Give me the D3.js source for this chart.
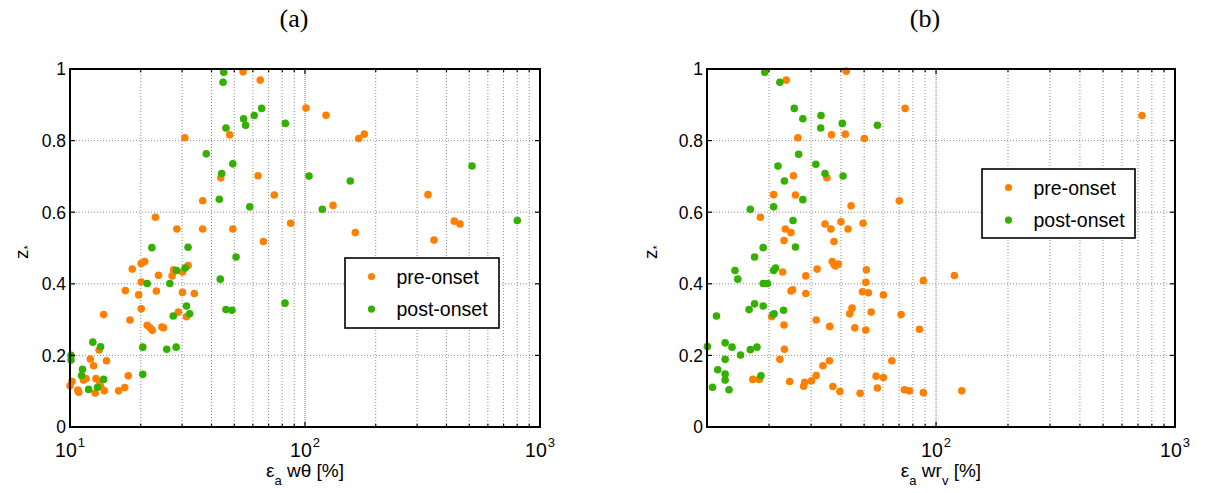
<!DOCTYPE html>
<html>
<head>
<meta charset="utf-8">
<script src="https://cdn.jsdelivr.net/npm/d3@7"></script>
<style>
  html, body { margin: 0; padding: 0; background: #fff; }
  svg { display: block; }
  text { font-family: "Liberation Sans", Arial, Helvetica, sans-serif; fill: #000; }
  text.title { font-family: "Liberation Serif", "DejaVu Serif", serif; }
</style>
</head>
<body>
<svg id="chart" width="1205" height="493"></svg>
<script>
// ---- data: (a) eps_a * w theta [%] vs z*
const preA_x = [54.5, 64.5, 101, 47.8, 30.8, 122.9, 169.3, 178.8, 43.8, 63.1, 74.0, 36.7, 23.1, 86.9, 28.5, 36.7, 49.3, 66.5,
  131.6, 333.8, 431.8, 456.6, 163.7, 353.9, 20.1, 20.8, 18.4, 27.6, 31.8, 30.1, 23.8, 27.2, 20.1, 17.2, 23.3, 19.6, 30.1, 33.8,
  20.1, 28.9, 13.9, 31.3, 18.0, 21.3, 21.9, 22.4, 24.6, 25.0, 13.3, 12.2, 14.3, 12.6, 11.7, 11.4, 17.7, 12.9, 13.4, 10.2, 10.0,
  10.8, 10.9, 12.8, 14.0, 16.1, 17.1, 13.5];
const preA_z = [0.992, 0.969, 0.891, 0.816, 0.808, 0.871, 0.806, 0.818, 0.696, 0.702, 0.648, 0.632, 0.586, 0.569, 0.553, 0.553, 0.553, 0.518,
  0.619, 0.649, 0.575, 0.567, 0.543, 0.522, 0.457, 0.462, 0.441, 0.439, 0.451, 0.433, 0.424, 0.422, 0.405, 0.381, 0.380, 0.369, 0.376, 0.373,
  0.330, 0.321, 0.314, 0.308, 0.299, 0.284, 0.277, 0.270, 0.279, 0.277, 0.215, 0.190, 0.185, 0.171, 0.135, 0.131, 0.143, 0.135, 0.127, 0.127, 0.115,
  0.103, 0.097, 0.095, 0.101, 0.101, 0.110, 0.113];
const postA_x = [45.1, 44.8, 65.4, 60.8, 54.8, 55.9, 82.5, 46.1, 38.0, 49.3, 44.2, 104, 43.2, 58.2, 155.9, 513.6, 118.5, 800.4,
  22.3, 31.8, 50.9, 28.4, 30.9, 43.6, 21.3, 26.6, 82.2, 31.3, 46.1, 48.9, 32.3, 27.5, 12.5, 13.5, 20.4, 25.8, 28.3,
  10.1, 10.1, 11.3, 11.2, 20.4, 13.9, 12.0, 13.1];
const postA_z = [0.991, 0.963, 0.890, 0.870, 0.861, 0.843, 0.848, 0.835, 0.763, 0.735, 0.708, 0.701, 0.636, 0.615, 0.687, 0.729, 0.608, 0.577,
  0.501, 0.502, 0.475, 0.437, 0.444, 0.413, 0.401, 0.401, 0.346, 0.338, 0.328, 0.326, 0.316, 0.310, 0.237, 0.224, 0.223, 0.217, 0.223,
  0.200, 0.187, 0.161, 0.144, 0.147, 0.133, 0.105, 0.111];

// ---- data: (b) eps_a * w r_v [%] vs z*
const preB_x = [23.6, 42.1, 74.2, 36.5, 41.7, 50.1, 26.4, 34.9, 25.3, 20.9, 25.8, 44.1, 70.2, 18.4, 23.4, 24.7, 23.1, 34.3, 36.3, 40.0,
  42.8, 49.5, 37.4, 727.8, 22.8, 36.8, 37.4, 37.9, 39.0, 31.8, 28.5, 51.1, 50.8, 88.5, 24.7, 25.1, 28.5, 49.2, 52.1, 60.2,
  20.5, 31.5, 44.5, 43.5, 53.5, 71.4, 23.1, 35.9, 45.7, 50.8, 85.2, 23.2, 22.2, 35.8, 33.6, 65.3, 17.1, 18.2, 31.5, 30.1,
  56.1, 60.2, 24.4, 28.2, 27.9, 37.0, 39.6, 48.1, 56.8, 73.7, 77.3, 88.5, 119.3, 128.1];
const preB_z = [0.969, 0.994, 0.890, 0.816, 0.818, 0.806, 0.808, 0.696, 0.702, 0.649, 0.648, 0.618, 0.632, 0.586, 0.553, 0.543, 0.521, 0.567, 0.553, 0.573,
  0.553, 0.569, 0.518, 0.870, 0.433, 0.462, 0.454, 0.450, 0.455, 0.441, 0.422, 0.439, 0.404, 0.409, 0.380, 0.383, 0.373, 0.378, 0.375, 0.369,
  0.308, 0.299, 0.332, 0.316, 0.321, 0.314, 0.285, 0.281, 0.277, 0.271, 0.273, 0.217, 0.189, 0.185, 0.171, 0.185, 0.133, 0.133, 0.144, 0.129,
  0.142, 0.138, 0.127, 0.125, 0.114, 0.113, 0.099, 0.094, 0.109, 0.104, 0.101, 0.096, 0.423, 0.101];
const postB_x = [19.2, 22.2, 25.5, 27.7, 33.0, 32.9, 40.5, 56.8, 26.6, 21.8, 31.4, 34.3, 40.8, 23.2, 27.7, 20.9, 16.7, 25.2,
  18.9, 25.8, 17.4, 14.4, 14.8, 20.9, 21.3, 18.9, 19.7, 17.4, 18.9, 16.5, 23.0, 21.0, 20.8, 12.05, 11.04, 13.1, 14.0,
  15.2, 16.7, 17.8, 13.1, 12.2, 13.1, 13.1, 18.5, 11.6, 13.6];
const postB_z = [0.991, 0.963, 0.890, 0.861, 0.870, 0.835, 0.848, 0.843, 0.762, 0.729, 0.734, 0.708, 0.701, 0.687, 0.635, 0.615, 0.608, 0.577,
  0.501, 0.503, 0.475, 0.437, 0.413, 0.437, 0.444, 0.401, 0.401, 0.344, 0.338, 0.328, 0.326, 0.316, 0.314, 0.310, 0.225, 0.235, 0.223,
  0.201, 0.216, 0.223, 0.189, 0.160, 0.148, 0.131, 0.143, 0.111, 0.104];

const seriesNames = ["pre-onset", "post-onset"];
const seriesColors = ["#ff8000", "#33b000"];
const yTicks = [0, 0.2, 0.4, 0.6, 0.8, 1];
const yTickLabels = ["0", "0.2", "0.4", "0.6", "0.8", "1"];
const panelTitles = ["(a)", "(b)"];

const svg = d3.select("#chart");
const zip = (xs, ys) => xs.map((v, i) => [v, ys[i]]);

function panel(opts) {
  const { x0, x1, y0, y1, xDomain, decades, title, titleX, xLabel, yLabelX, legend, pre, post } = opts;
  const x = d3.scaleLog().domain(xDomain).range([x0, x1]);
  const y = d3.scaleLinear().domain([0, 1]).range([y1, y0]);
  const g = svg.append("g");

  // minor + major log ticks inside the domain
  const allX = [];
  for (let e = 1; e <= 3; e++) {
    for (let m = 1; m <= 9; m++) {
      const v = m * Math.pow(10, e);
      if (v >= xDomain[0] - 1e-9 && v <= xDomain[1] + 1e-9) allX.push({ v, major: m === 1 });
    }
  }

  // grid
  const grid = g.append("g");
  allX.forEach(t => {
    if (Math.abs(x(t.v) - x0) < 1 || Math.abs(x(t.v) - x1) < 1) return;
    grid.append("line")
      .attr("x1", x(t.v)).attr("x2", x(t.v)).attr("y1", y0).attr("y2", y1)
      .attr("stroke", t.major ? "#777" : "#8a8a8a")
      .attr("stroke-width", 1)
      .attr("stroke-dasharray", t.major ? "1,1" : "1,2");
  });
  yTicks.forEach(v => {
    if (v === 0 || v === 1) return;
    grid.append("line")
      .attr("x1", x0).attr("x2", x1).attr("y1", y(v)).attr("y2", y(v))
      .attr("stroke", "#8a8a8a").attr("stroke-width", 1).attr("stroke-dasharray", "1,2");
  });

  // points
  const drawSeries = (data, color) => {
    g.append("g").selectAll("circle").data(data).join("circle")
      .attr("cx", d => x(d[0])).attr("cy", d => y(d[1]))
      .attr("r", 3.8).attr("fill", color);
  };
  drawSeries(pre, seriesColors[0]);
  drawSeries(post, seriesColors[1]);

  // inward tick marks on all four sides
  const ticks = g.append("g").attr("stroke", "#000").attr("stroke-width", 1.2);
  allX.forEach(t => {
    const L = t.major ? 5 : 3;
    const px = x(t.v);
    ticks.append("line").attr("x1", px).attr("x2", px).attr("y1", y1).attr("y2", y1 - L);
    ticks.append("line").attr("x1", px).attr("x2", px).attr("y1", y0).attr("y2", y0 + L);
  });
  yTicks.forEach(v => {
    ticks.append("line").attr("x1", x0).attr("x2", x0 + 5).attr("y1", y(v)).attr("y2", y(v));
    ticks.append("line").attr("x1", x1).attr("x2", x1 - 5).attr("y1", y(v)).attr("y2", y(v));
  });

  // axes box
  g.append("rect").attr("x", x0).attr("y", y0).attr("width", x1 - x0).attr("height", y1 - y0)
    .attr("fill", "none").attr("stroke", "#000").attr("stroke-width", 2);

  // y tick labels
  yTicks.forEach((v, i) => {
    g.append("text").attr("x", x0 - 4).attr("y", y(v)).attr("dy", "0.36em")
      .attr("text-anchor", "end").attr("font-size", 17.5).text(yTickLabels[i]);
  });

  // x tick labels (decades)
  decades.forEach(e => {
    const px = x(Math.pow(10, e));
    const t = g.append("text").attr("x", px).attr("y", 457).attr("text-anchor", "middle").attr("font-size", 19.5);
    t.append("tspan").text("10");
    t.append("tspan").attr("font-size", 13).attr("dy", -10).attr("dx", 1).text(String(e));
  });

  // x label
  const xl = g.append("text").attr("x", (x0 + x1) / 2).attr("y", 477).attr("text-anchor", "middle").attr("font-size", 19);
  xLabel.forEach(p => {
    const s = xl.append("tspan").text(p.t);
    if (p.sub) s.attr("font-size", 13).attr("dy", 8);
    if (p.up) s.attr("dy", -8);
  });

  // y label z*
  const yl = g.append("text").attr("transform", `translate(${yLabelX},${(y0 + y1) / 2 + 4}) rotate(-90)`)
    .attr("text-anchor", "middle").attr("font-size", 19);
  yl.append("tspan").text("z");
  yl.append("tspan").attr("font-size", 11).attr("dy", 4).text("*");

  // title
  svg.append("text").attr("class", "title").attr("x", titleX).attr("y", 27).attr("text-anchor", "middle")
    .attr("font-size", 26).text(title);

  // legend
  const lg = g.append("g");
  lg.append("rect").attr("x", legend.x).attr("y", legend.y).attr("width", legend.w).attr("height", legend.h)
    .attr("fill", "#fff").attr("stroke", "#000").attr("stroke-width", 1.6);
  seriesNames.forEach((name, i) => {
    const cy = legend.y + 18.5 + i * 32.6;
    lg.append("circle").attr("cx", legend.x + 26.5).attr("cy", cy).attr("r", 3.6).attr("fill", seriesColors[i]);
    lg.append("text").attr("x", legend.x + 51.5).attr("y", cy).attr("dy", "0.36em").attr("font-size", 19.5).text(name);
  });
}

panel({
  x0: 70, x1: 540, y0: 69, y1: 427, xDomain: [10, 1000], decades: [1, 2, 3],
  title: panelTitles[0], titleX: 294, yLabelX: 28,
  xLabel: [{ t: "ε" }, { t: "a", sub: true }, { t: " wθ [%]", up: true }],
  legend: { x: 345, y: 258, w: 154, h: 70 },
  pre: zip(preA_x, preA_z), post: zip(postA_x, postA_z)
});

panel({
  x0: 707, x1: 1175, y0: 69, y1: 427, xDomain: [11, 1000], decades: [2, 3],
  title: panelTitles[1], titleX: 925, yLabelX: 657,
  xLabel: [{ t: "ε" }, { t: "a", sub: true }, { t: " wr", up: true }, { t: "v", sub: true }, { t: " [%]", up: true }],
  legend: { x: 982, y: 169, w: 153, h: 69 },
  pre: zip(preB_x, preB_z), post: zip(postB_x, postB_z)
});
</script>
</body>
</html>
